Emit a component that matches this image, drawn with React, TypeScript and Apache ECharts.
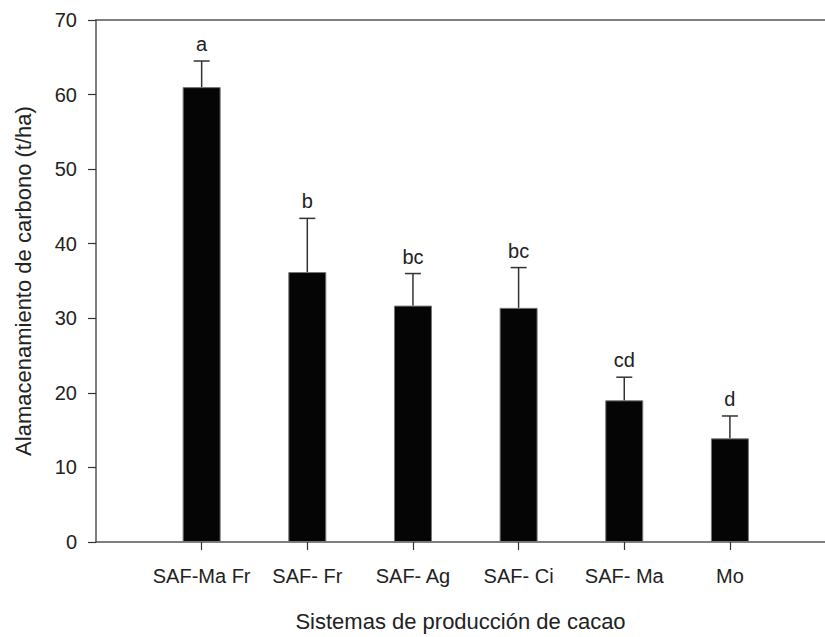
import React, { useEffect, useRef } from "react";
import * as echarts from "echarts";

const categories = ["SAF-Ma Fr", "SAF- Fr", "SAF- Ag", "SAF- Ci", "SAF- Ma", "Mo"];
const positions = [1, 2, 3, 4, 5, 6];
const means = [61.0, 36.2, 31.7, 31.4, 19.0, 13.9];
const upperErrors = [64.5, 43.4, 36.0, 36.8, 22.1, 16.9];
const letters = ["a", "b", "bc", "bc", "cd", "d"];
const yTicks = [0, 10, 20, 30, 40, 50, 60, 70];

export default function App() {
  const ref = useRef<HTMLDivElement>(null);
  useEffect(() => {
    if (!ref.current) return;
    document.body.style.margin = "0";
    const chart = echarts.init(ref.current, null, { renderer: "svg" });
    const font = "Liberation Sans, Arial, Helvetica, sans-serif";
    const axisColor = "#555";
    chart.setOption({
      animation: false,
      grid: { left: 96, right: 0, top: 20, bottom: 87 },
      xAxis: [
        {
          type: "value",
          min: 0,
          max: 6.9,
          interval: 1,
          position: "bottom",
          splitLine: { show: false },
          axisLine: { show: true, lineStyle: { color: axisColor, width: 1.5 } },
          axisTick: {
            show: true,
            customValues: positions,
            length: 8,
            lineStyle: { color: "#333", width: 1.2 },
          },
          axisLabel: {
            customValues: positions,
            margin: 24,
            fontSize: 20,
            fontFamily: font,
            color: "#222",
            formatter: (v: number) => categories[Math.round(v) - 1] ?? "",
          },
          name: "Sistemas de producción de cacao",
          nameLocation: "middle",
          nameGap: 68,
          nameTextStyle: { fontSize: 22, fontFamily: font, color: "#222", verticalAlign: "top" },
        },
        {
          type: "value",
          min: 0,
          max: 6.9,
          position: "top",
          splitLine: { show: false },
          axisLine: { show: true, lineStyle: { color: axisColor, width: 1.5 } },
          axisTick: { show: false },
          axisLabel: { show: false },
        },
      ],
      yAxis: {
        type: "value",
        min: 0,
        max: 70,
        interval: 10,
        splitLine: { show: false },
        axisLine: { show: true, lineStyle: { color: axisColor, width: 1.5 } },
        axisTick: { show: true, length: 8, lineStyle: { color: "#333", width: 1.2 } },
        axisLabel: {
          margin: 19,
          fontSize: 20,
          fontFamily: font,
          color: "#222",
          formatter: (v: number) => (yTicks.includes(v) ? String(v) : ""),
        },
        name: "Alamacenamiento de carbono (t/ha)",
        nameLocation: "middle",
        nameGap: 62,
        nameTextStyle: { fontSize: 22, fontFamily: font, color: "#222" },
      },
      series: [
        {
          type: "bar",
          xAxisIndex: 0,
          barWidth: 38,
          data: positions.map((p, i) => [p, means[i]]),
          itemStyle: { color: "#050505", borderColor: "#777", borderWidth: 1 },
          z: 2,
        },
        {
          type: "custom",
          xAxisIndex: 0,
          data: positions.map((p, i) => [p, means[i], upperErrors[i], i]),
          z: 3,
          renderItem: (params: any, api: any) => {
            const x = api.value(0);
            const base = api.coord([x, api.value(1)]);
            const top = api.coord([x, api.value(2)]);
            const idx = api.value(3);
            const stroke = { stroke: "#333", lineWidth: 1.5 };
            return {
              type: "group",
              children: [
                { type: "line", shape: { x1: base[0], y1: base[1], x2: top[0], y2: top[1] }, style: stroke },
                { type: "line", shape: { x1: top[0] - 8, y1: top[1], x2: top[0] + 8, y2: top[1] }, style: stroke },
                {
                  type: "text",
                  style: {
                    text: letters[idx],
                    x: top[0],
                    y: top[1] - 7,
                    align: "center",
                    verticalAlign: "bottom",
                    fontSize: 20,
                    fontFamily: font,
                    fill: "#222",
                  },
                },
              ],
            };
          },
        },
      ],
    });
    return () => chart.dispose();
  }, []);
  return <div ref={ref} style={{ position: "absolute", left: 0, top: 0, width: 825, height: 637 }} />;
}
